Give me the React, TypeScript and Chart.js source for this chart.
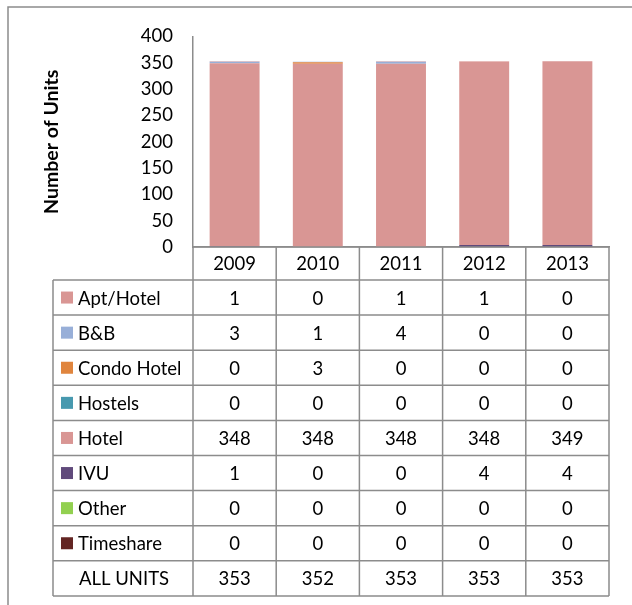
import React, { useEffect, useRef } from "react";
import { Chart, registerables } from "chart.js";

Chart.register(...registerables);

// ---- Data ----
const years = ["2009", "2010", "2011", "2012", "2013"];
const seriesNames = ["Apt/Hotel", "B&B", "Condo Hotel", "Hostels", "Hotel", "IVU", "Other", "Timeshare"];
const aptHotel = [1, 0, 1, 1, 0];
const bnb = [3, 1, 4, 0, 0];
const condoHotel = [0, 3, 0, 0, 0];
const hostels = [0, 0, 0, 0, 0];
const hotel = [348, 348, 348, 348, 349];
const ivu = [1, 0, 0, 4, 4];
const other = [0, 0, 0, 0, 0];
const timeshare = [0, 0, 0, 0, 0];
const allUnits = [353, 352, 353, 353, 353];
const totalLabel = "ALL UNITS";
const yAxisTitle = "Number of Units";
const yMax = 400;
const yStep = 50;

const seriesValues = [aptHotel, bnb, condoHotel, hostels, hotel, ivu, other, timeshare];
const seriesColors = ["#D99694", "#98AFD8", "#E0853E", "#4799AF", "#D99694", "#604A7B", "#92D050", "#632523"];

const FONT = "Lato, 'Open Sans', sans-serif";
const GRID = "#8C8C8C";
const TEXT_SIZE = 18.5;

const framePlugin = {
  id: "frame",
  beforeDraw(chart: any) {
    const ctx = chart.ctx;
    ctx.save();
    ctx.fillStyle = "#FFFFFF";
    ctx.fillRect(0, 0, chart.width, chart.height);
    ctx.strokeStyle = GRID;
    ctx.lineWidth = 1.5;
    ctx.beginPath();
    ctx.moveTo(8, chart.height);
    ctx.lineTo(8, 7);
    ctx.lineTo(chart.width, 7);
    ctx.stroke();
    ctx.restore();
  },
};

const tablePlugin = {
  id: "dataTable",
  afterDraw(chart: any) {
    const ctx = chart.ctx;
    const xs = chart.scales.x;
    const area = chart.chartArea;
    const n = years.length;
    const colW = (area.right - area.left) / n;
    const edges: number[] = [];
    for (let i = 0; i <= n; i++) edges.push(xs.getPixelForValue(0) - colW / 2 + i * colW);
    const headerTop = area.bottom;
    const headerH = 33;
    const rowH = 35.1;
    const rowsTop = headerTop + headerH;
    const nRows = seriesNames.length + 1;
    const tableBottom = rowsTop + nRows * rowH;
    const labelLeft = 53;

    ctx.save();
    ctx.strokeStyle = GRID;
    ctx.lineWidth = 1.5;
    ctx.beginPath();
    for (let i = 0; i <= n; i++) {
      ctx.moveTo(edges[i], headerTop);
      ctx.lineTo(edges[i], tableBottom);
    }
    ctx.moveTo(edges[0], headerTop);
    ctx.lineTo(edges[n], headerTop);
    ctx.moveTo(labelLeft, rowsTop);
    ctx.lineTo(labelLeft, tableBottom);
    for (let r = 0; r <= nRows; r++) {
      const y = rowsTop + r * rowH;
      ctx.moveTo(labelLeft, y);
      ctx.lineTo(edges[n], y);
    }
    ctx.stroke();

    ctx.fillStyle = "#000000";
    ctx.font = `${TEXT_SIZE}px ${FONT}`;
    ctx.textBaseline = "middle";
    ctx.textAlign = "center";
    for (let i = 0; i < n; i++) {
      ctx.fillText(years[i], (edges[i] + edges[i + 1]) / 2, headerTop + headerH / 2 + 1);
    }
    const rows = [...seriesValues, allUnits];
    for (let r = 0; r < nRows; r++) {
      const cy = rowsTop + r * rowH + rowH / 2 + 1;
      ctx.textAlign = "center";
      ctx.fillStyle = "#000000";
      for (let i = 0; i < n; i++) {
        ctx.fillText(String(rows[r][i]), (edges[i] + edges[i + 1]) / 2, cy);
      }
      ctx.textAlign = "left";
      if (r < seriesNames.length) {
        ctx.fillStyle = seriesColors[r];
        ctx.fillRect(61, cy - 7, 12, 12);
        ctx.fillStyle = "#000000";
        ctx.fillText(seriesNames[r], 78, cy);
      } else {
        ctx.fillText(totalLabel, 79, cy);
      }
    }
    ctx.restore();
  },
};

export default function App() {
  const ref = useRef<HTMLCanvasElement | null>(null);
  useEffect(() => {
    if (!ref.current) return;
    // stacked bottom-to-top in reverse series order
    const datasets = seriesNames
      .map((name, i) => ({
        label: name,
        data: seriesValues[i],
        backgroundColor: seriesColors[i],
        borderWidth: 0,
        barPercentage: 0.6,
        categoryPercentage: 1,
      }))
      .reverse();
    const chart = new Chart(ref.current, {
      type: "bar",
      data: { labels: years, datasets },
      options: {
        responsive: false,
        animation: false,
        devicePixelRatio: 1,
        layout: { padding: { left: 40, top: 36.5, right: 23, bottom: 358 } },
        plugins: { legend: { display: false }, tooltip: { enabled: false } },
        scales: {
          x: {
            stacked: true,
            grid: { display: false, drawTicks: false },
            ticks: { display: false },
            border: { display: true, color: GRID, width: 1.5 },
          },
          y: {
            stacked: true,
            min: 0,
            max: yMax,
            ticks: { stepSize: yStep, padding: 20, color: "#000000", font: { family: FONT, size: TEXT_SIZE } },
            grid: { display: false, drawTicks: false },
            border: { display: true, color: GRID, width: 1.5 },
            title: {
              display: true,
              text: yAxisTitle,
              color: "#000000",
              font: { family: FONT, size: 19.5, weight: "bold" },
              padding: { top: 0, bottom: 0 },
            },
            afterFit: (scale: any) => {
              scale.width = 153;
            },
          },
        },
      },
      plugins: [framePlugin, tablePlugin],
    });
    return () => chart.destroy();
  }, []);
  return (
    <div style={{ position: "fixed", left: 0, top: 0, width: 632, height: 605 }}>
      <canvas ref={ref} width={632} height={605} style={{ display: "block" }} />
    </div>
  );
}
